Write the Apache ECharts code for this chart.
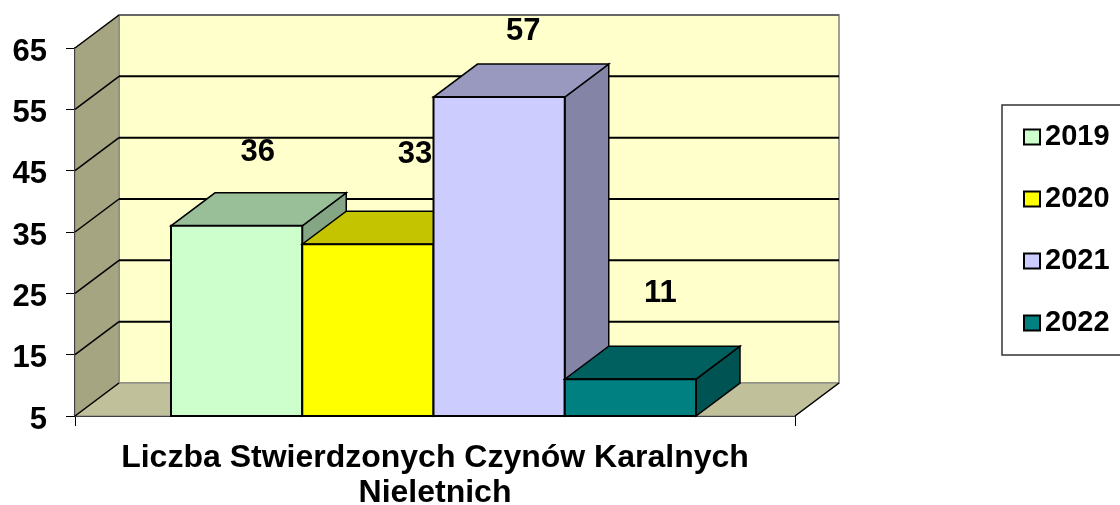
<!DOCTYPE html>
<html>
<head>
<meta charset="utf-8">
<title>Liczba Stwierdzonych Czynów Karalnych Nieletnich</title>
<script src="https://cdn.jsdelivr.net/npm/echarts@6/dist/echarts.min.js"></script>
<style>
html, body { margin: 0; padding: 0; background: #fff; }
#chart { width: 1120px; height: 505px; }
</style>
</head>
<body>
<div id="chart"></div>
<script>
var categories = ['Liczba Stwierdzonych Czynów Karalnych\nNieletnich'];
var years = ['2019', '2020', '2021', '2022'];
var values = [36, 33, 57, 11];
var yTicks = [5, 15, 25, 35, 45, 55, 65];

var frontColors = ['#CCFFCC', '#FFFF00', '#CCCCFF', '#008080'];
var topColors = ['#99BF99', '#C4C400', '#9999BF', '#006060'];
var sideColors = ['#85A685', '#A6A600', '#8484A6', '#005353'];
// the value labels float away from the bars by a different amount each
var labelShift = [[21, -73], [47, -90], [24, -66], [30, -86]];

var FONT = '"Liberation Sans", Arial, sans-serif';
var DX = 44, DY = -33;   // depth of the fake 3d box
var BAR_W = 131.25;

function poly(points, fill, stroke, lineWidth) {
    return {
        type: 'polygon',
        shape: { points: points },
        style: { fill: fill, stroke: stroke || null, lineWidth: lineWidth || 0 }
    };
}

function line(a, b, color, width) {
    return {
        type: 'line',
        shape: { x1: a[0], y1: a[1], x2: b[0], y2: b[1] },
        style: { stroke: color, lineWidth: width }
    };
}

function renderWalls(params, api) {
    var min = yTicks[0], max = yTicks[yTicks.length - 1];
    var band = api.size([1, 0])[0];
    var cx = api.coord([0, min])[0];
    var x0 = cx - band / 2, x1 = cx + band / 2;
    var y0 = api.coord([0, min])[1], y1 = api.coord([0, max])[1];
    var kids = [
        poly([[x0 + DX, y1 + DY], [x1 + DX, y1 + DY], [x1 + DX, y0 + DY], [x0 + DX, y0 + DY]], '#FFFFCC', '#808080', 1.5),
        poly([[x0, y0], [x0 + DX, y0 + DY], [x0 + DX, y1 + DY], [x0, y1]], '#A5A582', '#808080', 1),
        poly([[x0, y0], [x1, y0], [x1 + DX, y0 + DY], [x0 + DX, y0 + DY]], '#C0C09A', '#808080', 1)
    ];
    yTicks.forEach(function (t) {
        var y = api.coord([0, t])[1];
        if (t !== min && t !== max) {
            kids.push(line([x0 + DX, y + DY], [x1 + DX, y + DY], '#000', 2));
        }
        kids.push(line([x0, y], [x0 + DX, y + DY], '#000', 1.5));
    });
    kids.push(line([x1, y0], [x1 + DX, y0 + DY], '#000', 1.5));
    kids.push(line([x0 + DX, y1 + DY], [x1 + DX, y1 + DY], '#555', 1.5));
    return { type: 'group', children: kids };
}

function makeBarRenderer(i) {
    return function (params, api) {
        var val = api.value(1);
        var cx = api.coord([0, val])[0];
        var top = api.coord([0, val])[1];
        var base = api.coord([0, yTicks[0]])[1];
        var l = cx - 1.5 + (i - 2) * BAR_W;
        var r = l + BAR_W;
        return {
            type: 'group',
            children: [
                poly([[r, top], [r + DX, top + DY], [r + DX, base + DY], [r, base]], sideColors[i], '#000', 1.5),
                poly([[l, top], [r, top], [r + DX, top + DY], [l + DX, top + DY]], topColors[i], '#000', 1.5),
                poly([[l, top], [r, top], [r, base], [l, base]], frontColors[i], '#000', 2),
                {
                    type: 'text',
                    x: (l + r) / 2 + labelShift[i][0],
                    y: top + labelShift[i][1],
                    style: {
                        text: String(val),
                        font: 'bold 31px ' + FONT,
                        fill: '#000',
                        align: 'center',
                        verticalAlign: 'middle'
                    }
                }
            ]
        };
    };
}

var series = [{
    name: 'walls',
    type: 'custom',
    data: [[0, yTicks[0]]],
    renderItem: renderWalls,
    clip: false,
    silent: true,
    z: 1
}];
years.forEach(function (year, i) {
    series.push({
        name: year,
        type: 'custom',
        data: [[0, values[i]]],
        renderItem: makeBarRenderer(i),
        clip: false,
        itemStyle: { color: frontColors[i] },
        z: 2 + i
    });
});

var myChart = echarts.init(document.getElementById('chart'));
var option = {
    animation: false,
    backgroundColor: '#fff',
    textStyle: { fontFamily: FONT },
    grid: { left: 75, right: 325, top: 48, bottom: 89, outerBoundsMode: 'none' },
    xAxis: {
        type: 'category',
        data: categories,
        boundaryGap: true,
        axisLine: { lineStyle: { color: '#000', width: 2 } },
        axisTick: { show: true, interval: 0, length: 10, lineStyle: { color: '#000', width: 1 } },
        axisLabel: {
            margin: 25,
            color: '#000',
            fontFamily: FONT,
            fontWeight: 'bold',
            fontSize: 32,
            lineHeight: 35
        }
    },
    yAxis: {
        type: 'value',
        min: yTicks[0],
        max: yTicks[yTicks.length - 1],
        interval: 10,
        axisLine: { show: true, lineStyle: { color: '#000', width: 2 } },
        axisTick: { show: true, length: 9, lineStyle: { color: '#000', width: 1 } },
        splitLine: { show: false },
        axisLabel: {
            margin: 28,
            color: '#000',
            fontFamily: FONT,
            fontWeight: 'bold',
            fontSize: 31,
            verticalAlign: 'top',
            lineHeight: 8
        }
    },
    legend: {
        data: years,
        left: 1002,
        top: 105,
        orient: 'vertical',
        selectedMode: false,
        backgroundColor: '#fff',
        borderColor: '#333',
        borderWidth: 1.5,
        padding: [17, 40, 17, 21],
        itemGap: 32,
        itemWidth: 16,
        itemHeight: 15,
        icon: 'rect',
        itemStyle: { borderColor: '#000', borderWidth: 2 },
        textStyle: {
            color: '#000',
            fontFamily: FONT,
            fontWeight: 'bold',
            fontSize: 29,
            lineHeight: 30
        }
    },
    series: series
};
myChart.setOption(option, true);
window.onresize = myChart.resize;
</script>
</body>
</html>
